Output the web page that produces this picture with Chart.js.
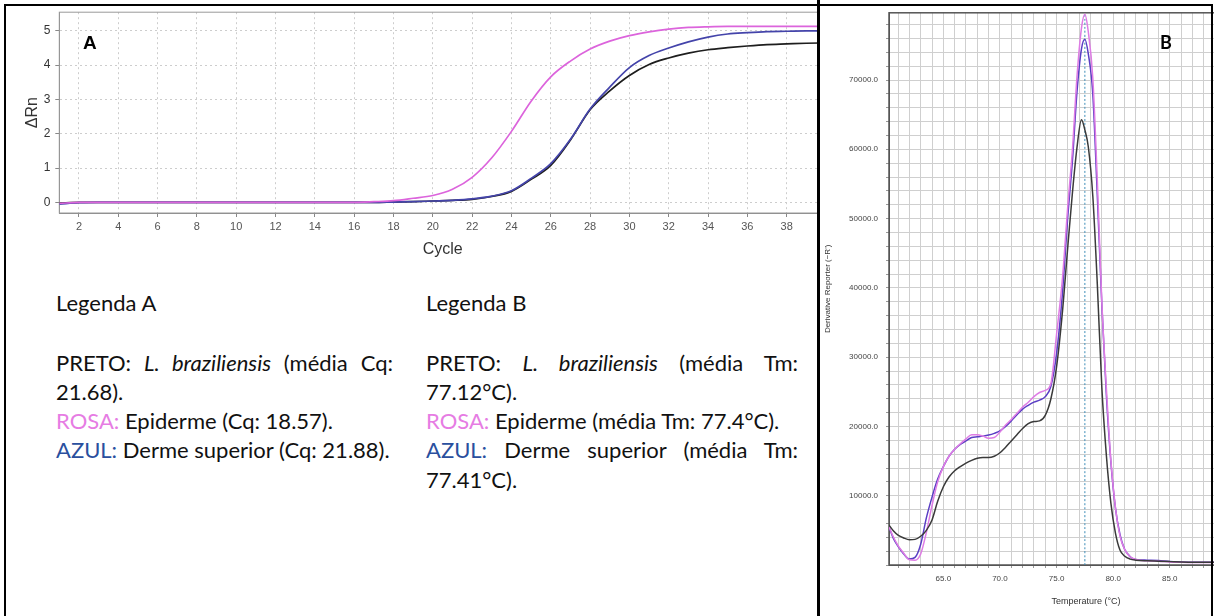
<!DOCTYPE html>
<html>
<head>
<meta charset="utf-8">
<script src="https://cdn.jsdelivr.net/npm/chart.js@4.4.1/dist/chart.umd.min.js"></script>
<style>
  html, body { margin: 0; padding: 0; }
  body { width: 1214px; height: 616px; position: relative; overflow: hidden; background: #fff; }
  #panelA { position: absolute; left: 0; top: 0; width: 818px; height: 616px; overflow: hidden; }
  #panelB { position: absolute; left: 817px; top: 0; width: 397px; height: 616px; overflow: hidden; background: #fff; border-left: 3px solid #000; box-sizing: border-box; }
  #chartA { position: absolute; left: 0; top: 0; }
  #chartB { position: absolute; left: 1px; top: 0; }
  #frame { position: absolute; left: 4px; top: 4px; width: 1209px; height: 700px; border: 2px solid #000; box-sizing: border-box; pointer-events: none; }
  .tag { position: absolute; font-weight: bold; font-size: 18px; line-height: 18px; color: #000; }
  .legend { position: absolute; top: 288px; font-family: Lato, sans-serif; font-size: 22px; line-height: 29.3px; color: #111; }
  .legend .head { margin-bottom: 30.3px; }
  .legend .just { text-align: justify; text-align-last: justify; }
  .rosa { color: #e67ce3; }
  .azul { color: #2a4f9e; }
</style>
</head>
<body>
<div id="panelA">
  <canvas id="chartA" width="830" height="263"></canvas>
  <div class="tag" style="left:83px; top:34px; font-size:19px; font-family:'Liberation Sans', Arial, sans-serif;">A</div>
  <div class="legend" style="left:56px; width:337px;">
    <div class="head">Legenda A</div>
    <div class="just">PRETO: <i>L. braziliensis</i> (média Cq:</div>
    <div>21.68).</div>
    <div><span class="rosa">ROSA:</span> Epiderme (Cq: 18.57).</div>
    <div><span class="azul">AZUL:</span> Derme superior (Cq: 21.88).</div>
  </div>
  <div class="legend" style="left:426px; width:372px;">
    <div class="head">Legenda B</div>
    <div class="just">PRETO: <i>L. braziliensis</i> (média Tm:</div>
    <div>77.12°C).</div>
    <div><span class="rosa">ROSA:</span> Epiderme (média Tm: 77.4°C).</div>
    <div class="just"><span class="azul">AZUL:</span> Derme superior (média Tm:</div>
    <div>77.41°C).</div>
  </div>
</div>
<div id="panelB">
  <canvas id="chartB" width="470" height="611"></canvas>
  <div class="tag" style="left:340px; top:33px; font-family:Lato, sans-serif;">B</div>
</div>
<div id="frame"></div>
<script>
// A: amplification plot
const cycles = [1, 2, 3, 4, 5, 6, 7, 8, 9, 10, 11, 12, 13, 14, 15, 16, 17, 18, 19, 20,
  21, 22, 23, 24, 25, 26, 27, 28, 29, 30, 31, 32, 33, 34, 35, 36, 37, 38, 39, 40];
const rnPreto = [-0.02, 0, 0, 0, 0, 0, 0, 0, 0, 0, 0, 0, 0, 0, 0, 0, 0, 0.01, 0.02, 0.04,
  0.06, 0.09, 0.17, 0.32, 0.67, 1.08, 1.82, 2.7, 3.25, 3.7, 4.02, 4.21, 4.35, 4.45, 4.51, 4.56, 4.6, 4.62, 4.64, 4.65];
const rnRosa = [-0.03, 0, 0, 0, 0, 0, 0, 0, 0, 0, 0, 0, 0, 0, 0, 0, 0.02, 0.05, 0.12, 0.2,
  0.38, 0.73, 1.3, 2.07, 2.95, 3.66, 4.12, 4.47, 4.7, 4.86, 4.97, 5.05, 5.1, 5.12, 5.13, 5.13, 5.13, 5.13, 5.13, 5.13];
const rnAzul = [-0.05, -0.01, 0, 0, 0, 0, 0, 0, 0, 0, 0, 0, 0, 0, 0, 0, 0, 0.01, 0.02, 0.04,
  0.06, 0.1, 0.18, 0.34, 0.7, 1.13, 1.84, 2.72, 3.36, 3.93, 4.28, 4.5, 4.68, 4.82, 4.91, 4.95, 4.98, 4.99, 5.0, 5.0];
const cycleTicks = [2, 4, 6, 8, 10, 12, 14, 16, 18, 20, 22, 24, 26, 28, 30, 32, 34, 36, 38];
const rnTicks = [0, 1, 2, 3, 4, 5];

// B: melt curve
const meltTemp = [60.2, 60.6, 61, 61.5, 62, 62.5, 63, 63.5, 64, 64.5,
  65, 65.5, 66, 66.5, 67, 67.5, 68, 68.5, 69, 69.5,
  70, 70.5, 71, 71.5, 72, 72.5, 73, 73.5, 74, 74.5,
  75, 75.5, 76, 76.4, 76.8, 77.2, 77.5, 77.8, 78.2, 78.6,
  79, 79.4, 79.8, 80.2, 80.6, 81, 81.5, 82, 83, 84,
  85, 86, 88, 90, 92, 95];
const meltPreto = [5760, 4900, 4300, 3900, 3650, 3700, 4150, 5000, 6500, 9200,
  11300, 12700, 13600, 14200, 14700, 15100, 15400, 15500, 15500, 15700,
  16200, 17000, 17900, 18800, 19700, 20400, 20700, 20800, 21600, 24000,
  28600, 36200, 46100, 53700, 60200, 64270, 62800, 60400, 53300, 40500,
  25600, 15800, 8900, 4600, 2160, 1300, 850, 700, 600, 550,
  500, 450, 400, 400, 400, 400];
const meltRosa = [5500, 4000, 2800, 1700, 750, 700, 1600, 4700, 8600, 12000,
  14200, 15700, 16700, 17500, 18200, 18800, 18800, 18600, 18300, 18400,
  19200, 20200, 21000, 21900, 22800, 23500, 24300, 24900, 25200, 26200,
  33300, 41000, 52000, 59900, 70400, 77500, 79500, 77000, 70300, 55500,
  37900, 25500, 15000, 8300, 4200, 2300, 1200, 800, 600, 550,
  450, 400, 350, 350, 350, 350];
const meltAzul = [5500, 3800, 2700, 1600, 860, 1100, 3000, 6800, 9800, 12400,
  14200, 15700, 16700, 17400, 17900, 18400, 18500, 18600, 18750, 19000,
  19350, 20000, 20800, 21700, 22500, 23050, 23500, 23800, 24300, 25800,
  30500, 38800, 50500, 58300, 68200, 74500, 75900, 73800, 68000, 53300,
  37500, 24500, 14800, 8200, 4400, 2300, 1200, 800, 700, 650,
  500, 450, 400, 400, 400, 400];
const meltTm = 77.5;
const meltXLabels = [65, 70, 75, 80, 85];
const meltYLabels = [10000, 20000, 30000, 40000, 50000, 60000, 70000];

const font = "'Liberation Sans', Arial, sans-serif";

// plot frame around the chart area
const frame = {
  id: 'frame',
  beforeDatasetsDraw(chart, args, opts) {
    const { ctx, chartArea: a } = chart;
    ctx.save();
    ctx.strokeStyle = opts.color;
    ctx.lineWidth = opts.width;
    ctx.strokeRect(a.left, a.top, a.right - a.left, a.bottom - a.top);
    ctx.restore();
  },
};

const pts = (xs, ys) => xs.map((x, i) => ({ x: x, y: ys[i] }));

new Chart(document.getElementById('chartA'), {
  type: 'line',
  data: {
    datasets: [
      { data: pts(cycles, rnRosa), borderColor: '#dc64dc' },
      { data: pts(cycles, rnAzul), borderColor: '#4444aa' },
      { data: pts(cycles, rnPreto), borderColor: '#1e1e1e' },
    ],
  },
  plugins: [frame],
  options: {
    responsive: false,
    animation: false,
    layout: { padding: { left: 18.5, top: 12, right: 4 } },
    plugins: {
      legend: { display: false },
      tooltip: { enabled: false },
      frame: { color: '#9a9a9a', width: 1 },
    },
    elements: {
      point: { radius: 0 },
      line: { borderWidth: 1.7, cubicInterpolationMode: 'monotone' },
    },
    scales: {
      x: {
        type: 'linear',
        min: 1,
        max: 40,
        afterBuildTicks: (s) => { s.ticks = cycleTicks.map((v) => ({ value: v })); },
        afterFit: (s) => { s.height = 50; },
        grid: { color: '#cdcdcd', tickColor: '#888', tickLength: 4, tickBorderDash: [] },
        border: { color: '#888', dash: [2, 3] },
        ticks: { autoSkip: false, maxRotation: 0, padding: 3, color: '#555', font: { family: font, size: 11 } },
        title: { display: true, text: 'Cycle', color: '#333', font: { family: font, size: 16 } },
      },
      y: {
        min: -0.31,
        max: 5.545,
        afterBuildTicks: (s) => { s.ticks = rnTicks.map((v) => ({ value: v })); },
        afterFit: (s) => { s.width = 40.8; },
        grid: { color: '#cdcdcd', tickColor: '#888', tickLength: 4, tickBorderDash: [] },
        border: { color: '#888', dash: [2, 3] },
        ticks: { padding: 5, color: '#333', font: { family: font, size: 12 } },
        title: { display: true, text: 'ΔRn', color: '#333', font: { family: font, size: 16 } },
      },
    },
  },
});

new Chart(document.getElementById('chartB'), {
  type: 'line',
  data: {
    datasets: [
      { data: pts(meltTemp, meltPreto), borderColor: '#3a3a3a' },
      { data: pts(meltTemp, meltRosa), borderColor: '#de7ce4' },
      { data: pts(meltTemp, meltAzul), borderColor: '#5a3ec4' },
      {
        data: [{ x: meltTm, y: 0 }, { x: meltTm, y: 79700 }],
        borderColor: '#3d8db8',
        borderWidth: 1,
        borderDash: [2, 2],
      },
    ],
  },
  plugins: [frame],
  options: {
    responsive: false,
    animation: false,
    layout: { padding: { top: 12, right: 8 } },
    plugins: {
      legend: { display: false },
      tooltip: { enabled: false },
      frame: { color: '#555', width: 1.5 },
    },
    elements: {
      point: { radius: 0 },
      line: { borderWidth: 1.5, cubicInterpolationMode: 'monotone' },
    },
    scales: {
      x: {
        type: 'linear',
        min: 60.2,
        max: 95,
        afterBuildTicks: (s) => {
          const t = [];
          for (let v = 61; v <= 95; v++) t.push({ value: v });
          s.ticks = t;
        },
        afterFit: (s) => { s.height = 46; },
        grid: { color: '#cfcfcf', tickColor: '#999', tickLength: 3 },
        border: { color: '#555' },
        ticks: {
          autoSkip: false, maxRotation: 0, padding: 6, color: '#444', font: { family: font, size: 8 },
          callback: (v) => (meltXLabels.includes(v) ? v.toFixed(1) : ''),
        },
        title: { display: true, text: 'Temperature (°C)', color: '#333', font: { family: font, size: 9 } },
      },
      y: {
        min: 0,
        max: 79700,
        afterBuildTicks: (s) => {
          const t = [];
          for (let v = 0; v <= 78000; v += 2000) t.push({ value: v });
          s.ticks = t;
        },
        afterFit: (s) => { s.width = 68; },
        grid: { color: '#cfcfcf', tickColor: '#999', tickLength: 3 },
        border: { color: '#555' },
        ticks: {
          autoSkip: false, padding: 8, color: '#444', font: { family: font, size: 8 },
          callback: (v) => (meltYLabels.includes(v) ? v.toFixed(1) : ''),
        },
        title: { display: true, text: "Derivative Reporter (−R')", color: '#333', font: { family: font, size: 8 }, padding: { top: 2, bottom: 4 } },
      },
    },
  },
});
</script>
</body>
</html>
